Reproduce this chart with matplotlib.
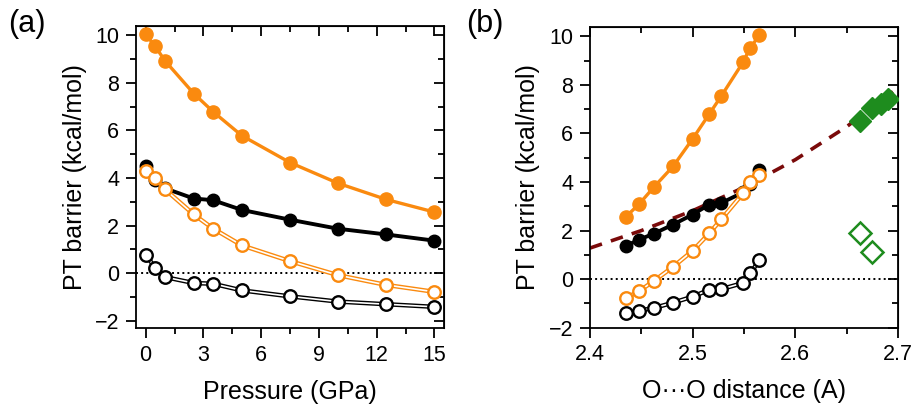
import matplotlib
matplotlib.use('Agg')
import matplotlib.pyplot as plt
from matplotlib.ticker import MultipleLocator

plt.rcParams['font.family'] = ['Liberation Sans', 'DejaVu Sans']

# pressure points (GPa) and matching O...O distances (A)
pressure = [0, 0.5, 1, 2.5, 3.5, 5, 7.5, 10, 12.5, 15]
oo_dist = [2.565, 2.556, 2.549, 2.528, 2.516, 2.500, 2.481, 2.462, 2.448, 2.435]

# PT barriers (kcal/mol)
orange_filled = [10.04, 9.53, 8.93, 7.55, 6.79, 5.78, 4.65, 3.78, 3.10, 2.57]
black_filled = [4.51, 3.93, 3.57, 3.14, 3.07, 2.66, 2.25, 1.87, 1.63, 1.37]
orange_open = [4.30, 3.99, 3.53, 2.47, 1.88, 1.17, 0.51, -0.08, -0.49, -0.78]
black_open = [0.77, 0.24, -0.16, -0.41, -0.44, -0.72, -0.97, -1.19, -1.30, -1.41]

# green diamonds
green_filled_d = [2.663, 2.675, 2.683, 2.690]
green_filled_v = [6.50, 7.05, 7.20, 7.42]
green_open_d = [2.663, 2.675]
green_open_v = [1.88, 1.13]

# dashed fit curve
fit_d = [2.40, 2.45, 2.50, 2.55, 2.60, 2.65, 2.70]
fit_v = [1.28, 2.00, 2.82, 3.78, 4.92, 6.28, 7.88]

ORANGE = '#FA8A0F'
GREEN = '#1E8C1E'
MAROON = '#7A0A0A'


def style(ax, xmaj, xmin, ymaj=2, ymin=1):
    ax.xaxis.set_major_locator(MultipleLocator(xmaj))
    ax.xaxis.set_minor_locator(MultipleLocator(xmin))
    ax.yaxis.set_major_locator(MultipleLocator(ymaj))
    ax.yaxis.set_minor_locator(MultipleLocator(ymin))
    ax.tick_params(which='both', direction='out', top=False, right=False,
                   width=1.3, labelsize=15.5, pad=5)
    ax.tick_params(which='major', length=7)
    ax.tick_params(which='minor', length=4)
    for s in ax.spines.values():
        s.set_linewidth(1.3)
    # inward ticks on top and right
    top = ax.secondary_xaxis('top')
    top.xaxis.set_major_locator(MultipleLocator(xmaj))
    top.xaxis.set_minor_locator(MultipleLocator(xmin))
    top.tick_params(which='both', direction='in', labeltop=False, width=1.3)
    top.tick_params(which='major', length=7)
    top.tick_params(which='minor', length=4)
    right = ax.secondary_yaxis('right')
    right.yaxis.set_major_locator(MultipleLocator(ymaj))
    right.yaxis.set_minor_locator(MultipleLocator(ymin))
    right.tick_params(which='both', direction='in', labelright=False, width=1.3)
    right.tick_params(which='major', length=7)
    right.tick_params(which='minor', length=4)
    ax.axhline(0, color='black', linestyle=':', linewidth=1.4, zorder=1)


def draw_series(ax, x):
    # orange filled
    ax.plot(x, orange_filled, color=ORANGE, linewidth=2.4, marker='o',
            markersize=9.5, zorder=3)
    # black filled
    ax.plot(x, black_filled, color='black', linewidth=2.8, marker='o',
            markersize=9, zorder=3)
    # open circles with double line
    for vals, c in [(orange_open, ORANGE), (black_open, 'black')]:
        ax.plot(x, vals, color=c, linewidth=3.2, zorder=4)
        ax.plot(x, vals, color='white', linewidth=1.2, zorder=4)
        ax.plot(x, vals, linestyle='none', marker='o', markersize=9,
                markerfacecolor='white', markeredgecolor=c,
                markeredgewidth=1.7, zorder=5)


fig = plt.figure(figsize=(9.14, 4.09), dpi=100)
ax1 = fig.add_axes([0.1488, 0.198, 0.337, 0.738])
ax2 = fig.add_axes([0.6455, 0.1988, 0.337, 0.736])

# (a) barrier vs pressure
draw_series(ax1, pressure)
ax1.set_xlim(-0.5, 15.5)
ax1.set_ylim(-2.3, 10.38)
style(ax1, 3, 1.5)
ax1.set_xlabel('Pressure (GPa)', fontsize=18, labelpad=10)
ax1.set_ylabel('PT barrier (kcal/mol)', fontsize=18, labelpad=6)
fig.text(0.009, 0.978, '(a)', fontsize=22, va='top', ha='left')

# (b) barrier vs O...O distance
ax2.plot(fit_d, fit_v, color=MAROON, linestyle=(0, (3.5, 2.6)), linewidth=2.6, zorder=2)
draw_series(ax2, oo_dist)
ax2.plot(green_filled_d, green_filled_v, linestyle='none', marker='D',
         markersize=11.5, color=GREEN, zorder=5)
ax2.plot(green_open_d, green_open_v, linestyle='none', marker='D',
         markersize=11.5, markerfacecolor='white', markeredgecolor=GREEN,
         markeredgewidth=1.8, zorder=5)
ax2.set_xlim(2.4, 2.7)
ax2.set_ylim(-2, 10.4)
style(ax2, 0.1, 0.05)
ax2.set_xlabel('O\u00b7\u00b7\u00b7O distance (A)', fontsize=18, labelpad=10)
ax2.set_ylabel('PT barrier (kcal/mol)', fontsize=18, labelpad=6)
fig.text(0.51, 0.978, '(b)', fontsize=22, va='top', ha='left')

fig.savefig('out.png', dpi=100)
